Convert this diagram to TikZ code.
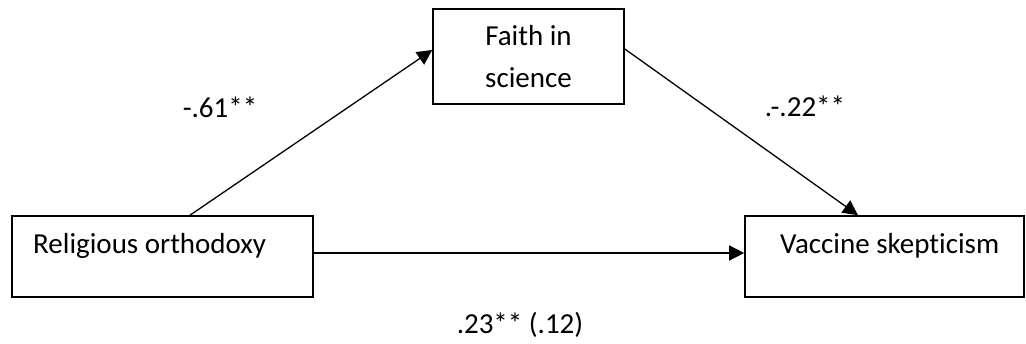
\documentclass[tikz,border=0pt]{standalone}
\usepackage{fontspec}
\setmainfont[Ligatures={NoCommon,NoContextual}]{Carlito}
\usetikzlibrary{arrows.meta}
\tikzset{
  box/.style={draw=black, line width=1.6pt, rectangle, inner sep=0pt, fill=white},
  txt/.style={inner sep=0pt, font=\fontsize{29}{42}\selectfont},
  conn/.style={line width=1.3pt, -{Triangle[length=15pt,width=15pt]}},
}
\begin{document}
\begin{tikzpicture}[x=1pt,y=1pt]
\useasboundingbox (0,0) rectangle (1026,343);
% boxes
\node[box, minimum width=301pt, minimum height=81pt] (rel) at (162.5,86.5) {};
\node[box, minimum width=279pt, minimum height=81pt] (vac) at (884.5,86.5) {};
\node[box, minimum width=191pt, minimum height=95pt, align=center,
      font=\fontsize{29}{42}\selectfont] (faith) at (528.5,286.5) {Faith in\\science};
% box texts
\node[txt, anchor=base west] (reltext) at (33,89) {Religious orthodoxy};
\node[txt, anchor=base west] (vactext) at (780,89) {Vaccine skepticism};
% connectors
\draw[conn] ([xshift=27.5pt]rel.north) -- ([yshift=6.5pt]faith.west);
\draw[conn] ([yshift=7.5pt]faith.east) -- ([xshift=-26.5pt]vac.north);
\draw[conn] ([yshift=3.5pt]rel.east) -- ([yshift=3.5pt]vac.west);
% path labels
\node[txt, anchor=base] (la) at (220,225) {-.61**};
\node[txt, anchor=base] (lb) at (805,226) {.-.22**};
\node[txt, anchor=base] (lc) at (520,10) {.23** (.12)};
\end{tikzpicture}
\end{document}
